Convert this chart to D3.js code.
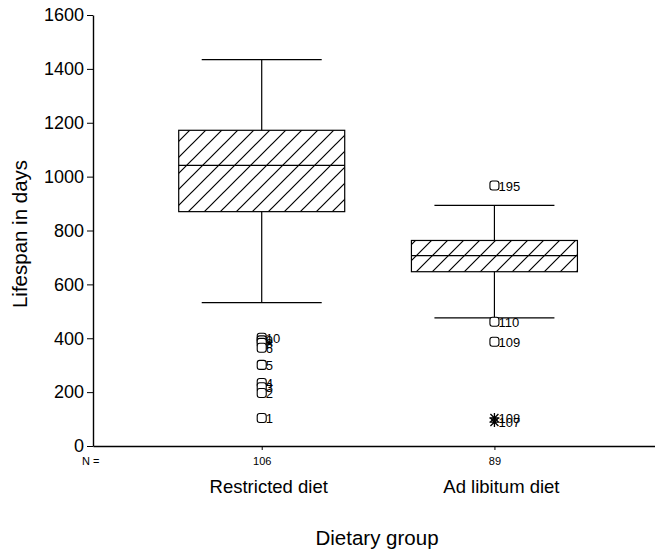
<!DOCTYPE html>
<html>
<head>
<meta charset="utf-8">
<script src="https://cdn.jsdelivr.net/npm/d3@7"></script>
<style>
  body { margin: 0; background: #fff; }
  svg { font-family: "Liberation Sans", Arial, sans-serif; }
</style>
</head>
<body>
<svg id="chart" width="655" height="550"></svg>
<script>
// dietary groups and their box statistics (days)
var groups = ['Restricted diet', 'Ad libitum diet'];
var counts = [106, 89];
var whiskerLow = [532, 476];
var q1 = [870, 647];
var median = [1042, 707];
var q3 = [1172, 763];
var whiskerHigh = [1434, 893];

// outliers: [group index, value, case id, kind]
var outliers = [
  [0, 402, '10', 'o'],
  [0, 392, '9', 'o'],
  [0, 383, '8', 'o'],
  [0, 365, '6', 'o'],
  [0, 301, '5', 'o'],
  [0, 234, '4', 'o'],
  [0, 218, '3', 'o'],
  [0, 197, '2', 'o'],
  [0, 104, '1', 'o'],
  [1, 967, '195', 'o'],
  [1, 461, '110', 'o'],
  [1, 387, '109', 'o'],
  [1, 104, '108', '*'],
  [1, 89, '107', '*']
];

var yTicks = [0, 200, 400, 600, 800, 1000, 1200, 1400, 1600];

var svg = d3.select('#chart');

var x = d3.scaleLinear().domain([-0.725, 1.69]).range([93, 655]);
var y = d3.scaleLinear().domain([0, 1600]).range([446, 15]);

var boxHalf = 83;
var capHalf = 60;

// hatch pattern
var defs = svg.append('defs');
defs.append('pattern')
  .attr('id', 'hatch')
  .attr('patternUnits', 'userSpaceOnUse')
  .attr('width', 16)
  .attr('height', 16)
  .append('path')
  .attr('d', 'M-4,4 L4,-4 M0,16 L16,0 M12,20 L20,12')
  .attr('stroke', '#000')
  .attr('stroke-width', 1.2);

// y axis
var yAxis = svg.append('g')
  .attr('transform', 'translate(93,0)')
  .call(d3.axisLeft(y).tickValues(yTicks).tickSize(6).tickPadding(3)
    .tickSizeOuter(0).tickFormat(d3.format('d')));
yAxis.selectAll('text').style('font-size', '18px').attr('fill', '#000');
yAxis.selectAll('line').attr('stroke', '#000');
yAxis.select('.domain').attr('stroke', '#000').attr('stroke-width', 1.4);

// x axis
var xAxis = svg.append('g')
  .attr('transform', 'translate(0,446)')
  .call(d3.axisBottom(x).tickValues([0, 1]).tickSize(4).tickSizeOuter(0)
    .tickFormat(function (d) { return counts[d]; }));
xAxis.selectAll('text').style('font-size', '11px').attr('fill', '#000').attr('dy', '1.1em');
xAxis.selectAll('line').attr('stroke', '#000');
xAxis.select('.domain').attr('stroke', '#000').attr('stroke-width', 1.4);

svg.append('text')
  .attr('x', 82).attr('y', 465)
  .style('font-size', '11px')
  .text('N =');

// boxes
var boxes = svg.append('g').selectAll('g').data(groups).join('g');

boxes.append('line')
  .attr('x1', function (d, i) { return x(i); })
  .attr('x2', function (d, i) { return x(i); })
  .attr('y1', function (d, i) { return y(whiskerHigh[i]); })
  .attr('y2', function (d, i) { return y(q3[i]); })
  .attr('stroke', '#000').attr('stroke-width', 1.2);
boxes.append('line')
  .attr('x1', function (d, i) { return x(i); })
  .attr('x2', function (d, i) { return x(i); })
  .attr('y1', function (d, i) { return y(q1[i]); })
  .attr('y2', function (d, i) { return y(whiskerLow[i]); })
  .attr('stroke', '#000').attr('stroke-width', 1.2);
boxes.append('line')
  .attr('x1', function (d, i) { return x(i) - capHalf; })
  .attr('x2', function (d, i) { return x(i) + capHalf; })
  .attr('y1', function (d, i) { return y(whiskerHigh[i]); })
  .attr('y2', function (d, i) { return y(whiskerHigh[i]); })
  .attr('stroke', '#000').attr('stroke-width', 1.2);
boxes.append('line')
  .attr('x1', function (d, i) { return x(i) - capHalf; })
  .attr('x2', function (d, i) { return x(i) + capHalf; })
  .attr('y1', function (d, i) { return y(whiskerLow[i]); })
  .attr('y2', function (d, i) { return y(whiskerLow[i]); })
  .attr('stroke', '#000').attr('stroke-width', 1.2);
boxes.append('rect')
  .attr('x', function (d, i) { return x(i) - boxHalf; })
  .attr('width', boxHalf * 2)
  .attr('y', function (d, i) { return y(q3[i]); })
  .attr('height', function (d, i) { return y(q1[i]) - y(q3[i]); })
  .attr('fill', 'url(#hatch)')
  .attr('stroke', '#000').attr('stroke-width', 1.2);
boxes.append('line')
  .attr('x1', function (d, i) { return x(i) - boxHalf; })
  .attr('x2', function (d, i) { return x(i) + boxHalf; })
  .attr('y1', function (d, i) { return y(median[i]); })
  .attr('y2', function (d, i) { return y(median[i]); })
  .attr('stroke', '#000').attr('stroke-width', 1.2);

// outliers
var outG = svg.append('g').selectAll('g').data(outliers).join('g')
  .attr('transform', function (d) { return 'translate(' + x(d[0]) + ',' + y(d[1]) + ')'; });

outG.filter(function (d) { return d[3] === 'o'; })
  .append('rect')
  .attr('x', -4.5).attr('y', -4.5).attr('width', 9).attr('height', 9)
  .attr('rx', 2.5)
  .attr('fill', '#fff').attr('stroke', '#000').attr('stroke-width', 1.1);

outG.filter(function (d) { return d[3] === '*'; })
  .append('path')
  .attr('d', 'M-4,-4L4,4M-4,4L4,-4M0,-5L0,5M-5,0L5,0')
  .attr('stroke', '#000').attr('stroke-width', 1.3);

outG.append('text')
  .attr('x', 4).attr('y', 5)
  .style('font-size', '13px')
  .text(function (d) { return d[2]; });

// category labels
svg.append('g').selectAll('text').data(groups).join('text')
  .attr('x', function (d, i) { return x(i) + 7; })
  .attr('y', 493)
  .attr('text-anchor', 'middle')
  .style('font-size', '18.5px')
  .text(function (d) { return d; });

svg.append('text')
  .attr('x', 377).attr('y', 545)
  .attr('text-anchor', 'middle')
  .style('font-size', '20.5px')
  .text('Dietary group');

svg.append('text')
  .attr('transform', 'translate(27,234) rotate(-90)')
  .attr('text-anchor', 'middle')
  .style('font-size', '20.5px')
  .text('Lifespan in days');
</script>
</body>
</html>
